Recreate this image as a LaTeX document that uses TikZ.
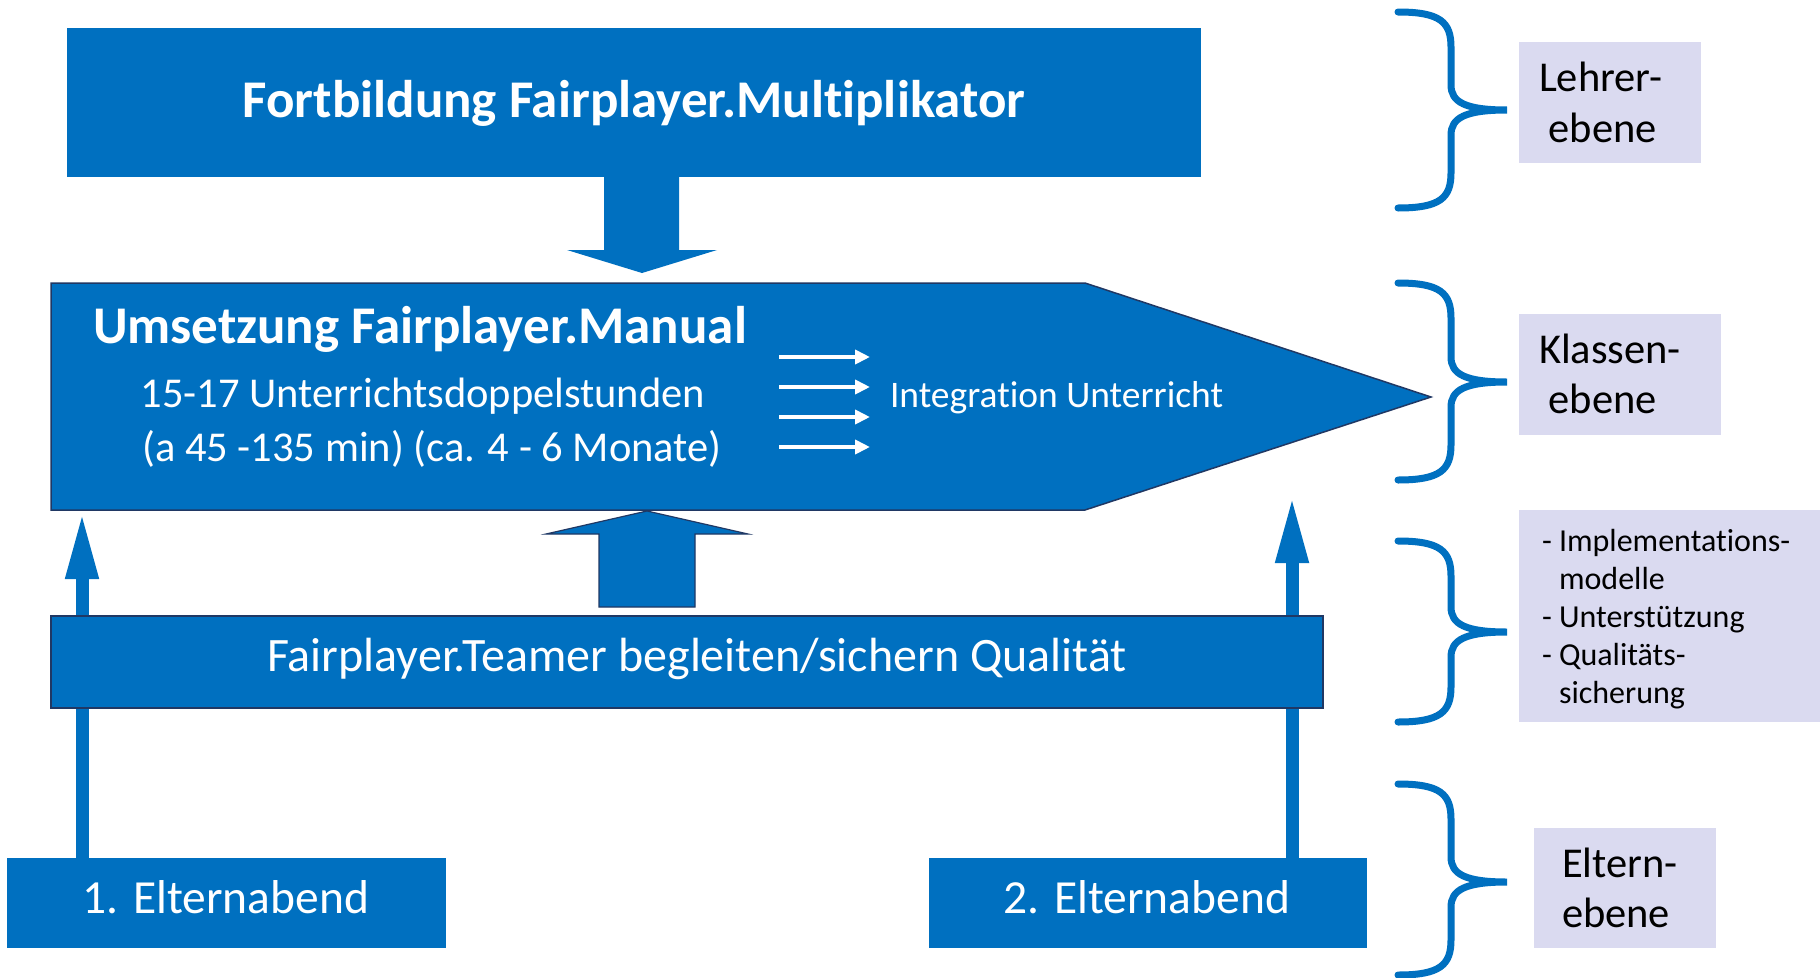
\documentclass[tikz,border=0pt]{standalone}
\usepackage{fontspec}
\setmainfont{Carlito}[Ligatures={NoCommon}]
\usetikzlibrary{arrows.meta}
\definecolor{fpblue}{RGB}{0,112,192}
\definecolor{fpnavy}{RGB}{32,56,100}
\definecolor{fplav}{RGB}{218,218,240}
\newcommand\fs[2]{\fontsize{#1}{#2}\selectfont}
\begin{document}
\begin{tikzpicture}[x=1pt,y=-1pt,
  bluebox/.style={fill=fpblue, inner sep=0pt, outer sep=0pt, anchor=north west},
  labbox/.style={fill=fplav, inner sep=0pt, outer sep=0pt, anchor=north west},
  wtxt/.style={text=white, inner sep=0pt, outer sep=0pt},
  ktxt/.style={text=black, inner sep=0pt, outer sep=0pt, align=left, anchor=base west},
  bracestyle/.style={draw=fpblue, line width=7pt, line cap=round},
  thinup/.style={draw=fpblue, line width=13pt, -{Triangle[length=68pt,width=30pt]}},
  whitearr/.style={draw=white, line width=4pt, -{Triangle[length=15pt,width=14pt]}},
  blockarr/.style={fill=fpblue, draw=fpnavy, line width=1.2pt}
]
\useasboundingbox (0,0) rectangle (1820,977);
\fill[white] (0,0) rectangle (1820,977);

% --- boxes
\node[bluebox, minimum width=1134pt, minimum height=149pt] (fort) at (67,28) {};
\node[bluebox, minimum width=439pt, minimum height=90pt] (e1) at (7,858) {};
\node[bluebox, minimum width=438pt, minimum height=90pt] (e2) at (929,858) {};

% --- thin arrows from parent evenings
\coordinate (e1top) at (82,858);
\coordinate (e1tip) at (82,511);
\coordinate (e2top) at (1292,858);
\coordinate (e2tip) at (1292,495);
\draw[thinup] (e1top) -- (e1tip);
\draw[thinup] (e2top) -- (e2tip);

% --- down block arrow
\fill[fpblue] (604,176) -- (604,250) -- (567,250) -- (642,273) -- (717,250) -- (679,250) -- (679,176) -- cycle;

% --- pentagon
\coordinate (pA) at (51,283);
\coordinate (pB) at (1085,283);
\coordinate (pC) at (1431,397);
\coordinate (pD) at (1085,510);
\coordinate (pE) at (51,510);
\filldraw[fill=fpblue, draw=fpnavy, line width=1.5pt] (pA) -- (pB) -- (pC) -- (pD) -- (pE) -- cycle;

% --- up block arrow
\filldraw[blockarr] (599,607) -- (599,534) -- (546,534) -- (647,511) -- (748,534) -- (695,534) -- (695,607) -- cycle;

% --- teamer bar
\node[bluebox, draw=fpnavy, line width=1.2pt, minimum width=1272pt, minimum height=92pt] (team) at (51,616) {};

% --- white arrows
\foreach \yy/\nm in {357/a,387/b,417/c,447/d}{
  \coordinate (ws\nm) at (779,\yy);
  \coordinate (we\nm) at (870,\yy);
  \draw[whitearr] (ws\nm) -- (we\nm);
}

% --- texts in blue shapes
\node[wtxt, anchor=base, font=\bfseries\fs{53}{60}] (fortT) at (634,117) {Fortbildung Fairplayer.Multiplikator};
\node[wtxt, anchor=base west, font=\bfseries\fs{53}{60}] (umsT) at (93,343) {Umsetzung Fairplayer.Manual};
\node[wtxt, anchor=base, font=\fs{42.5}{50}] (ums2) at (423,407) {15-17 Unterrichtsdoppelstunden};
\node[wtxt, anchor=base, font=\fs{42.5}{50}] (ums3) at (432,461) {(a 45 -135 min) (ca. 4 - 6 Monate)};
\node[wtxt, anchor=base west, font=\fs{37.5}{45}] (integ) at (890,407) {Integration Unterricht};
\node[wtxt, anchor=base, font=\fs{48}{55}] (teamT) at (697,671) {Fairplayer.Teamer begleiten/sichern Qualität};
\node[wtxt, anchor=base, font=\fs{47.5}{55}] (e1T) at (226,913) {1. Elternabend};
\node[wtxt, anchor=base, font=\fs{47.5}{55}] (e2T) at (1147,913) {2. Elternabend};

% --- braces
\newcommand\levelbrace[3]{%
  \draw[bracestyle] (1398,#1) .. controls (1440,#1) and (1451,#1+10) .. (1451,#1+35)
    -- (1451,#3-25) .. controls (1451,#3-8) and (1465,#3) .. (1507,#3)
    .. controls (1465,#3) and (1451,#3+8) .. (1451,#3+25)
    -- (1451,#2-35) .. controls (1451,#2-10) and (1440,#2) .. (1398,#2);}
\levelbrace{12}{208}{110}
\levelbrace{283}{480}{382}
\levelbrace{541}{722}{632}
\levelbrace{784}{975}{882}

% --- level labels
\node[labbox, minimum width=182pt, minimum height=121pt] (lb1) at (1519,42) {};
\node[labbox, minimum width=202pt, minimum height=121pt] (lb2) at (1519,314) {};
\node[labbox, minimum width=301pt, minimum height=212pt] (lb3) at (1519,510) {};
\node[labbox, minimum width=182pt, minimum height=120pt] (lb4) at (1534,828) {};

\node[ktxt, font=\fs{42.5}{51}] (l1T) at (1539,142) {Lehrer-\\\hphantom{\ }ebene};
\node[ktxt, font=\fs{42.5}{50}] (l2T) at (1539,413) {Klassen-\\\hphantom{\ }ebene};
\node[ktxt, font=\fs{32}{38}] (l3T) at (1542,703) {- Implementations-\\\hphantom{-\ }modelle\\- Unterstützung\\- Qualitäts-\\\hphantom{-\ }sicherung};
\node[ktxt, font=\fs{42.5}{50}] (l4T) at (1562,927) {Eltern-\\ebene};
\end{tikzpicture}
\end{document}
